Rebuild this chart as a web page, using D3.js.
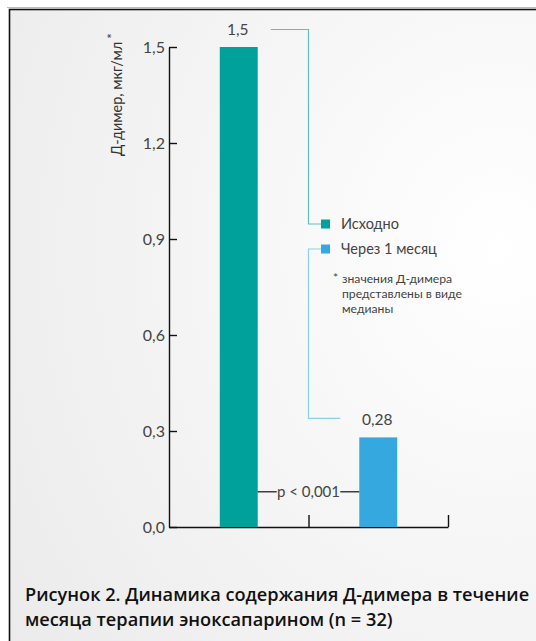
<!DOCTYPE html>
<html><head><meta charset="utf-8">
<script src="https://cdn.jsdelivr.net/npm/d3@7"></script>
<style>body{margin:0;background:#fff;overflow:hidden} svg{display:block}</style>
</head><body>
<script>
const categories = ["Исходно", "Через 1 месяц"];
const values = [1.5, 0.28];
const valueLabels = ["1,5", "0,28"];
const yTicks = [0, 0.3, 0.6, 0.9, 1.2, 1.5];
const colors = ["#00a19a", "#36a8e0"];
const lineColors = ["#5dc0b9", "#8ad0ef"];
const pLabel = "p < 0,001";
const pLevel = 0.11;
const yTitle = "Д-димер, мкг/мл";
const footnote = ["значения Д-димера", "представлены в виде", "медианы"];
const caption = ["Рисунок 2. Динамика содержания Д-димера в течение", "месяца терапии эноксапарином (n = 32)"];

const W = 536, H = 641;
const svg = d3.select("body").append("svg").attr("width", W).attr("height", H);
const defs = svg.append("defs");
const rg = defs.append("radialGradient").attr("id", "bg")
  .attr("cx", "70%").attr("cy", "30%").attr("r", "85%");
rg.append("stop").attr("offset", "0%").attr("stop-color", "#ffffff");
rg.append("stop").attr("offset", "100%").attr("stop-color", "#ebebeb");

svg.append("rect").attr("x", 0).attr("y", 0).attr("width", W).attr("height", H).attr("fill", "#fff");
svg.append("line").attr("x1", 7).attr("x2", W).attr("y1", 7.5).attr("y2", 7.5).attr("stroke", "#bbb");
svg.append("rect").attr("x", 9.5).attr("y", 9.5).attr("width", 700).attr("height", 800)
  .attr("fill", "url(#bg)").attr("stroke", "#111").attr("stroke-width", 1.6);

const font = "Lato, 'Open Sans', sans-serif";
const x = d3.scaleBand().domain(categories).range([169, 448]).padding(0);
const xb = d3.scaleLinear().domain([0, categories.length]).range([169, 448]);
const y = d3.scaleLinear().domain([0, 1.5]).range([527, 47]);
const barW = x.bandwidth() * 0.272;
const cx = d => x(d) + x.bandwidth() / 2;
const fmt = v => d3.format(".1f")(v).replace(".", ",");

// Y axis
const ya = svg.append("g").attr("transform", "translate(169,0)")
  .call(d3.axisLeft(y).tickValues(yTicks).tickFormat(fmt).tickSizeInner(-8).tickSizeOuter(0).tickPadding(4));
ya.select(".domain").attr("stroke", "#111").attr("stroke-width", 1.4);
ya.selectAll(".tick line").attr("stroke", "#111").attr("stroke-width", 1.4);
ya.selectAll(".tick text").attr("font-family", font).attr("font-size", 16).attr("fill", "#444");

// X axis
const xa = svg.append("g").attr("transform", "translate(0,527)")
  .call(d3.axisBottom(xb).tickValues([1, 2]).tickFormat("").tickSizeInner(-12).tickSizeOuter(0));
xa.select(".domain").attr("stroke", "#111").attr("stroke-width", 1.4);
xa.selectAll(".tick line").attr("stroke", "#111").attr("stroke-width", 1.4);

// Bars
svg.selectAll("rect.bar").data(values).join("rect").attr("class", "bar")
  .attr("x", (d, i) => cx(categories[i]) - barW / 2)
  .attr("width", barW)
  .attr("y", d => y(d))
  .attr("height", d => y(0) - y(d))
  .attr("fill", (d, i) => colors[i]);

// value labels
svg.selectAll("text.val").data(values).join("text").attr("class", "val")
  .attr("x", (d, i) => cx(categories[i]) - 1)
  .attr("y", d => y(d) - 12)
  .attr("text-anchor", "middle")
  .attr("font-family", font).attr("font-size", 15.5).attr("fill", "#444")
  .text((d, i) => valueLabels[i]);

// Legend
const midX = xb(1);
const legX = 321, legY = [224, 249];
const g = svg.append("g");
categories.forEach((c, i) => {
  g.append("rect").attr("x", legX).attr("y", legY[i] - 4.5).attr("width", 9).attr("height", 9).attr("fill", colors[i]);
  g.append("text").attr("x", legX + 20).attr("y", legY[i] + 5)
    .attr("font-family", font).attr("font-size", 14.5).attr("fill", "#444").text(c);
});

// connectors
const line = d3.line();
svg.append("path").attr("fill", "none").attr("stroke", lineColors[0]).attr("stroke-width", 1.2)
  .attr("d", line([[cx(categories[0]) + 32, y(values[0]) - 17.5], [midX, y(values[0]) - 17.5], [midX, legY[0]], [legX, legY[0]]]));
svg.append("path").attr("fill", "none").attr("stroke", lineColors[1]).attr("stroke-width", 1.2)
  .attr("d", line([[legX, legY[1]], [midX, legY[1]], [midX, y(values[1]) - 19], [cx(categories[1]) - 38, y(values[1]) - 19]]));

// footnote
const fn = svg.append("g").attr("font-family", font).attr("font-size", 12.2).attr("fill", "#444");
fn.append("text").attr("x", 333).attr("y", 282).text("*");
footnote.forEach((t, i) => fn.append("text").attr("x", 342).attr("y", 283 + i * 15).text(t));

// p-value
const py = y(pLevel);
const b0r = cx(categories[0]) + barW / 2, b1l = cx(categories[1]) - barW / 2;
svg.append("line").attr("x1", b0r).attr("x2", b0r + 19).attr("y1", py).attr("y2", py).attr("stroke", "#111").attr("stroke-width", 1.2);
svg.append("line").attr("x1", b1l - 19).attr("x2", b1l).attr("y1", py).attr("y2", py).attr("stroke", "#111").attr("stroke-width", 1.2);
svg.append("text").attr("x", (b0r + b1l) / 2).attr("y", py + 5).attr("text-anchor", "middle")
  .attr("font-family", font).attr("font-size", 15).attr("fill", "#444").text(pLabel);

// y title
const yt = svg.append("text").attr("transform", "translate(122,156) rotate(-90)")
  .attr("font-family", font).attr("font-size", 14.5).attr("fill", "#333");
yt.append("tspan").text(yTitle);
yt.append("tspan").attr("dx", 3).attr("dy", -5).attr("font-size", 13).text("*");

// caption
caption.forEach((t, i) => svg.append("text").attr("x", 25).attr("y", 601 + i * 25)
  .attr("font-family", "'Open Sans', sans-serif").attr("font-weight", 600).attr("font-size", 18.2)
  .attr("fill", "#111").text(t));
</script>
</body></html>
